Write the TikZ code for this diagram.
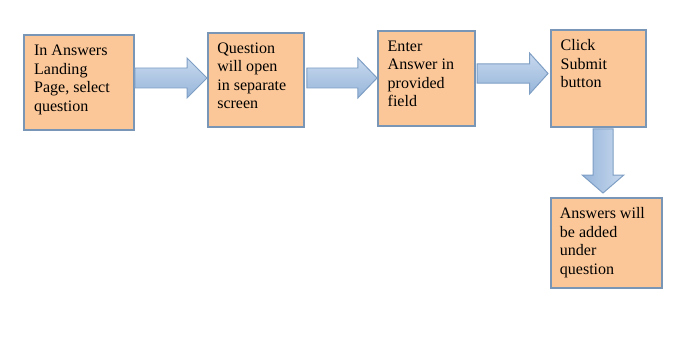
\documentclass[tikz,border=0pt]{standalone}
\usepackage{fontspec}
\setmainfont{Liberation Serif}
\usepackage{tikz}
\usetikzlibrary{calc}
\definecolor{peach}{RGB}{252, 199, 152}
\definecolor{boxline}{RGB}{122, 150, 182}
\definecolor{arrowline}{RGB}{126, 158, 196}
\definecolor{arrowlight}{RGB}{200, 217, 238}
\definecolor{arrowdark}{RGB}{150, 181, 218}

\begin{document}
\begin{tikzpicture}[
    box/.style={rectangle, draw=boxline, fill=peach, line width=1.4pt},
    txt/.style={anchor=north west, align=left, inner sep=0pt,
                font=\fontsize{11.4}{13.2}\selectfont},
    harrow/.style={draw=arrowline, line width=0.7pt, line join=miter,
                   top color=arrowlight, bottom color=arrowdark},
    varrow/.style={draw=arrowline, line width=0.7pt, line join=miter,
                   left color=arrowdark, right color=arrowlight}
]
\useasboundingbox (0,0) rectangle (17.5,8.575);

% Steps
\node[box, minimum width=2.75cm,  minimum height=2.375cm] (b1) at ( 1.975, 6.5125) {};
\node[box, minimum width=2.4cm,   minimum height=2.35cm]  (b2) at ( 6.4,   6.575)  {};
\node[box, minimum width=2.425cm, minimum height=2.375cm] (b3) at (10.6625,6.6125) {};
\node[box, minimum width=2.375cm, minimum height=2.425cm] (b4) at (14.9625,6.6125) {};
\node[box, minimum width=2.775cm, minimum height=2.25cm]  (b5) at (15.1625,2.5)    {};

% Texts
\node[txt] (t1) at ([xshift=0.27cm, yshift=-0.27cm]b1.north west) {In Answers\\Landing\\Page, select\\question};
\node[txt] (t2) at ([xshift=0.25cm, yshift=-0.26cm]b2.north west) {Question\\will open\\in separate\\screen};
\node[txt] (t3) at ([xshift=0.26cm, yshift=-0.26cm]b3.north west) {Enter\\Answer in\\provided\\field};
\node[txt] (t4) at ([xshift=0.26cm, yshift=-0.26cm]b4.north west) {Click\\Submit\\button};
\node[txt] (t5) at ([xshift=0.24cm, yshift=-0.26cm]b5.north west) {Answers will\\be added\\under\\question};

% b1 -> b2
\draw[harrow] let \p1=($(b1.east)+(0,0.1125)$), \p2=(b2.west) in
  (\x1,\y1+0.25cm) -- (\x2-0.5cm,\y1+0.25cm) -- (\x2-0.5cm,\y1+0.5cm) -- (\x2,\y1)
  -- (\x2-0.5cm,\y1-0.5cm) -- (\x2-0.5cm,\y1-0.25cm) -- (\x1,\y1-0.25cm) -- cycle;
% b2 -> b3
\draw[harrow] let \p1=($(b2.east)+(0.05,0.05)$), \p2=(b3.west) in
  (\x1,\y1+0.25cm) -- (\x2-0.48cm,\y1+0.25cm) -- (\x2-0.48cm,\y1+0.5cm) -- (\x2,\y1)
  -- (\x2-0.48cm,\y1-0.5cm) -- (\x2-0.48cm,\y1-0.25cm) -- (\x1,\y1-0.25cm) -- cycle;
% b3 -> b4
\draw[harrow] let \p1=($(b3.east)+(0.03,0.125)$), \p2=($(b4.west)+(-0.05,0)$) in
  (\x1,\y1+0.24cm) -- (\x2-0.46cm,\y1+0.24cm) -- (\x2-0.46cm,\y1+0.51cm) -- (\x2,\y1)
  -- (\x2-0.46cm,\y1-0.51cm) -- (\x2-0.46cm,\y1-0.24cm) -- (\x1,\y1-0.24cm) -- cycle;
% b4 -> b5
\draw[varrow] let \p1=($(b4.south)+(0.1125,-0.02)$), \p2=($(b5.north)+(0,0.1)$) in
  (\x1-0.25cm,\y1) -- (\x1-0.25cm,\y2+0.45cm) -- (\x1-0.52cm,\y2+0.45cm) -- (\x1,\y2)
  -- (\x1+0.52cm,\y2+0.45cm) -- (\x1+0.25cm,\y2+0.45cm) -- (\x1+0.25cm,\y1) -- cycle;

\end{tikzpicture}
\end{document}
